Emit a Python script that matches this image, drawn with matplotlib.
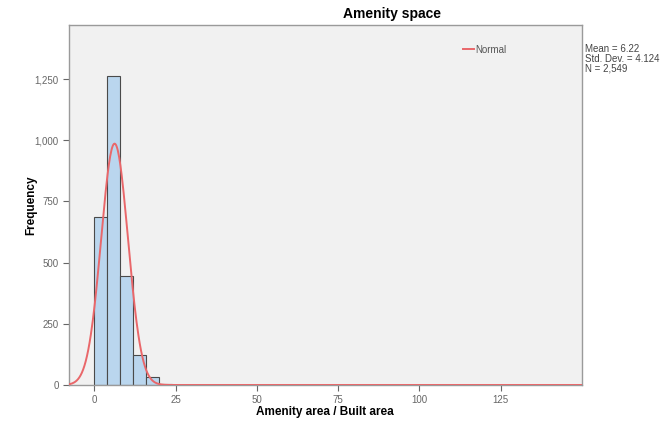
import numpy as np
import matplotlib.pyplot as plt
from matplotlib.ticker import FuncFormatter

plt.rcParams['font.family'] = ['Liberation Sans', 'DejaVu Sans']

# histogram counts, bins of width 4
bin_edges = [0, 4, 8, 12, 16, 20, 24, 28, 144, 148]
counts = [686, 1261, 444, 122, 31, 3, 1, 0, 1]
mean = 6.22
std_dev = 4.124
n_total = 2549
x_ticks = [0, 25, 50, 75, 100, 125]
y_ticks = [0, 250, 500, 750, 1000, 1250]

fig = plt.figure(figsize=(6.64, 4.26), dpi=100)
fig.patch.set_facecolor('white')
ax = fig.add_axes([69 / 664, 41 / 426, 513 / 664, 360 / 426])
ax.set_facecolor('#f1f1f1')

lefts = np.array(bin_edges[:-1])
widths = np.diff(bin_edges)
ax.bar(lefts, counts, width=widths, align='edge', color='#bad6ee',
       edgecolor='#4a4a4a', linewidth=0.8, zorder=2)

# fitted normal curve scaled to counts
bw = 4
xs = np.linspace(-8, 150, 800)
ys = n_total * bw / (std_dev * np.sqrt(2 * np.pi)) * np.exp(-0.5 * ((xs - mean) / std_dev) ** 2)
ax.plot(xs, ys, color='#e9676a', linewidth=1.4, zorder=3, label='Normal')

ax.set_xlim(-7.8, 150)
ax.set_ylim(0, 1471)
ax.set_xticks(x_ticks)
ax.set_yticks(y_ticks)
ax.yaxis.set_major_formatter(FuncFormatter(lambda v, p: f"{int(v):,}"))
ax.tick_params(axis='both', labelsize=7, colors='#666666', length=4, width=0.8)
ax.tick_params(axis='x', pad=3)
for s in ax.spines.values():
    s.set_color('#9a9a9a')
    s.set_linewidth(1.0)

fig.text(325 / 664, 1 - 412 / 426, 'Amenity area / Built area', ha='center', va='center',
         fontsize=8.5, fontweight='bold')
fig.text(31 / 664, 1 - 205 / 426, 'Frequency', ha='center', va='center',
         rotation=90, fontsize=8.5, fontweight='bold')
fig.text(392 / 664, 1 - 14 / 426, 'Amenity space', ha='center', va='center',
         fontsize=10, fontweight='bold')

leg = ax.legend(loc='upper right', bbox_to_anchor=(0.87, 0.97), frameon=False,
                fontsize=7, handlelength=1.2, handletextpad=0.1)
for t in leg.get_texts():
    t.set_color('#555555')

fig.text(585 / 664, 1 - 44 / 426,
         f"Mean = {mean}\nStd. Dev. = {std_dev}\nN = {n_total:,}",
         ha='left', va='top', fontsize=7, color='#444444', linespacing=0.95)

plt.savefig('out.png', dpi=100)
